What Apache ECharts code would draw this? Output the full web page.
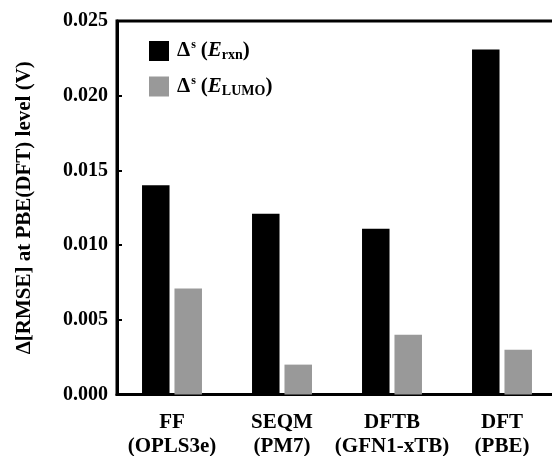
<!DOCTYPE html>
<html>
<head>
<meta charset="utf-8">
<script src="https://cdn.jsdelivr.net/npm/echarts@6/dist/echarts.min.js"></script>
<style>
html,body{margin:0;padding:0;background:#fff;}
#chart{width:552px;height:456px;}
</style>
</head>
<body>
<div id="chart"></div>
<script>
var categories = ['FF\n(OPLS3e)', 'SEQM\n(PM7)', 'DFTB\n(GFN1-xTB)', 'DFT\n(PBE)'];
var seriesNames = ['rxn', 'lumo'];
var rxnValues = [0.0140, 0.0121, 0.0111, 0.0231];
var lumoValues = [0.0071, 0.0020, 0.0040, 0.0030];
var yTicks = [0, 0.005, 0.010, 0.015, 0.020, 0.025];

var FONT = '"Liberation Serif", "Times New Roman", serif';
var chart = echarts.init(document.getElementById('chart'), null, {renderer: 'canvas'});
var rich = {
  d: {fontFamily: FONT, fontWeight: 'bold', fontSize: 21, color: '#000'},
  sup: {fontFamily: FONT, fontWeight: 'bold', fontSize: 12, color: '#000', padding: [0, 5, 12, 1]},
  e: {fontFamily: FONT, fontWeight: 'bold', fontStyle: 'italic', fontSize: 21, color: '#000'},
  sub: {fontFamily: FONT, fontWeight: 'bold', fontSize: 14, color: '#000', padding: [9, 0, 0, 0]}
};
chart.setOption({
  animation: false,
  backgroundColor: '#fff',
  grid: {left: 117, top: 21, width: 440, height: 373.5, show: true, borderColor: '#000', borderWidth: 3,
    containLabel: false, outerBoundsMode: 'none'},
  legend: {
    orient: 'vertical', left: 144, top: 34, itemWidth: 20, itemHeight: 20, itemGap: 12,
    icon: 'rect', data: seriesNames,
    formatter: function (n) {
      if (n === 'rxn') return '{d|\u0394}{sup|s}{d|(}{e|E}{sub|rxn}{d|)}';
      return '{d|\u0394}{sup|s}{d|(}{e|E}{sub|LUMO}{d|)}';
    },
    textStyle: {rich: rich, padding: [0, 0, 0, 3]}
  },
  xAxis: {
    type: 'category', data: categories,
    axisLine: {lineStyle: {color: '#000', width: 3}},
    axisTick: {inside: true, length: 5, interval: 0, lineStyle: {color: '#000', width: 2}},
    axisLabel: {interval: 0, fontFamily: FONT, fontWeight: 'bold', fontSize: 21, color: '#000', lineHeight: 24, margin: 16}
  },
  yAxis: {
    type: 'value', min: 0, max: 0.025, interval: 0.005,
    name: '\u0394[RMSE] at PBE(DFT) level (V)', nameLocation: 'middle', nameGap: 82,
    nameTextStyle: {fontFamily: FONT, fontWeight: 'bold', fontSize: 21, color: '#000'},
    splitLine: {show: false},
    axisLine: {show: true, lineStyle: {color: '#000', width: 3}},
    axisTick: {show: true, inside: true, length: 5, lineStyle: {color: '#000', width: 2}},
    axisLabel: {fontFamily: FONT, fontWeight: 'bold', fontSize: 20, color: '#000', margin: 9,
      formatter: function (v) { return v.toFixed(3); }}
  },
  series: [
    {name: 'rxn', type: 'bar', data: rxnValues, barWidth: 27.5, barGap: '18%', itemStyle: {color: '#000'}},
    {name: 'lumo', type: 'bar', data: lumoValues, barWidth: 27.5, itemStyle: {color: '#999999'}}
  ]
});
</script>
</body>
</html>
